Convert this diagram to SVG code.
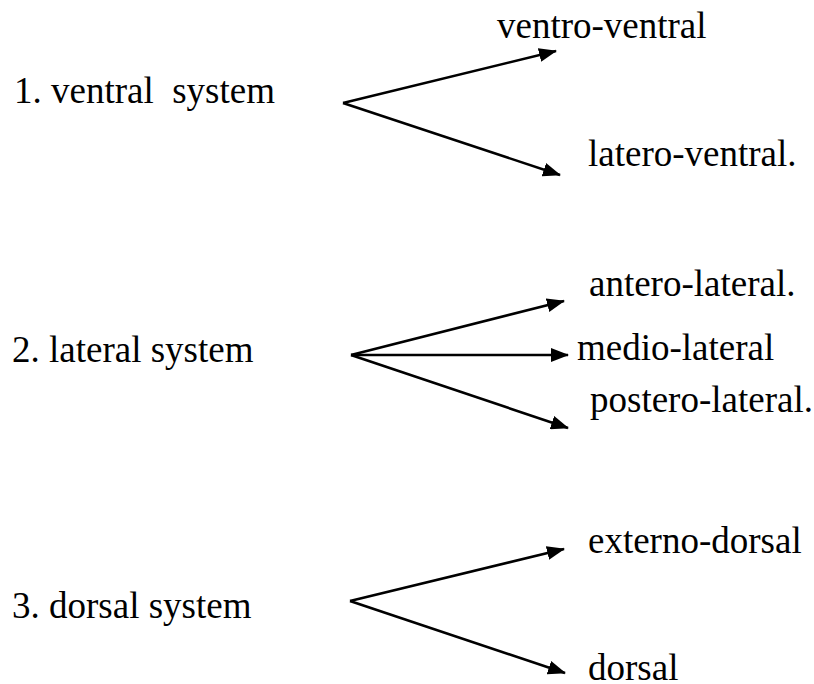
<svg xmlns="http://www.w3.org/2000/svg" width="814" height="684" viewBox="0 0 814 684">
  <style>
    .lbl { font-family: 'Liberation Serif', 'Times New Roman', Times, 'DejaVu Serif', serif; font-size: 37px; fill: #000; }
    .edge { stroke: #000; stroke-width: 2.6; fill: none; marker-end: url(#arrow); }
  </style>
  <defs>
    <marker id="arrow" markerWidth="18" markerHeight="14" refX="17" refY="7" orient="auto" markerUnits="userSpaceOnUse">
      <path d="M0,0 L18,7 L0,14 Z" fill="#000"/>
    </marker>
  </defs>
  <rect width="814" height="684" fill="#fff"/>

  <g id="connectors">
    <!-- ventral branches -->
    <path class="edge" d="M343,103 L556,51"/>
    <path class="edge" d="M343,103 L560,175"/>
    <!-- lateral branches -->
    <path class="edge" d="M351,355 L564,301"/>
    <path class="edge" d="M351,355 L568,355"/>
    <path class="edge" d="M351,355 L568,428"/>
    <!-- dorsal branches -->
    <path class="edge" d="M350,601 L564,549"/>
    <path class="edge" d="M350,601 L565,673"/>
  </g>

  <g font-family="Liberation Serif, Times New Roman, DejaVu Serif, serif">
    <g id="ventral-system"><text class="lbl" x="14" y="103" xml:space="preserve">1. ventral  system</text></g>
    <g id="ventro-ventral"><text class="lbl" x="497" y="38">ventro-ventral</text></g>
    <g id="latero-ventral"><text class="lbl" x="588" y="166">latero-ventral.</text></g>

    <g id="lateral-system"><text class="lbl" x="12" y="362">2. lateral system</text></g>
    <g id="antero-lateral"><text class="lbl" x="589" y="296">antero-lateral.</text></g>
    <g id="medio-lateral"><text class="lbl" x="577" y="360">medio-lateral</text></g>
    <g id="postero-lateral"><text class="lbl" x="590" y="412">postero-lateral.</text></g>

    <g id="dorsal-system"><text class="lbl" x="12" y="618">3. dorsal system</text></g>
    <g id="externo-dorsal"><text class="lbl" x="588" y="553">externo-dorsal</text></g>
    <g id="dorsal"><text class="lbl" x="588" y="680">dorsal</text></g>
  </g>
</svg>
